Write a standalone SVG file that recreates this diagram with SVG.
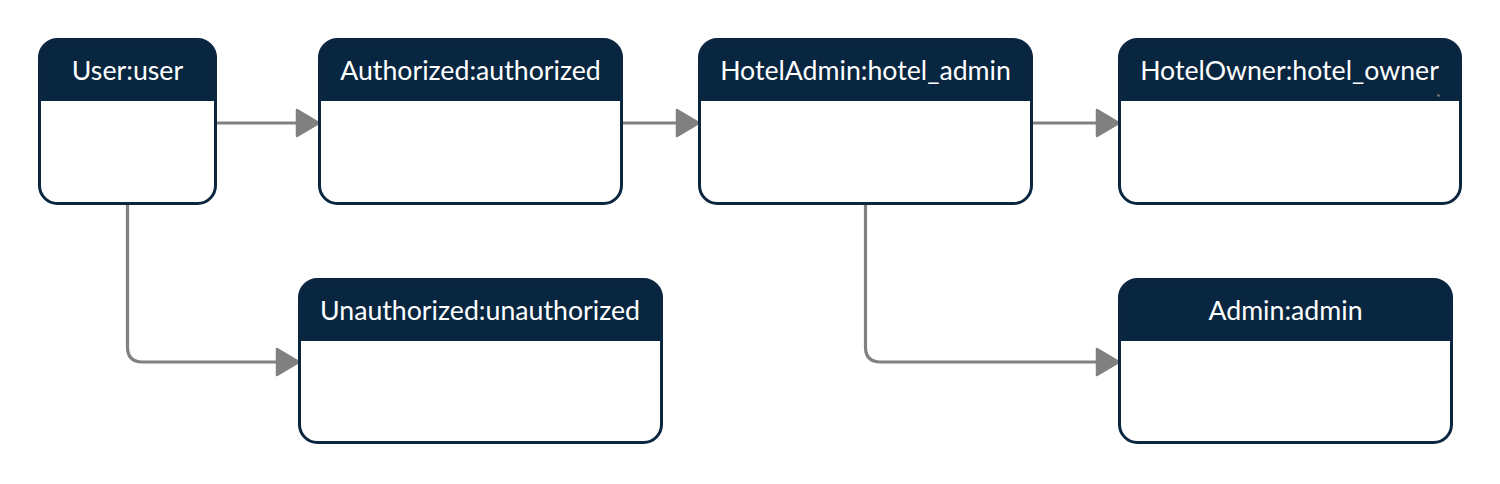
<svg xmlns="http://www.w3.org/2000/svg" width="1500" height="484" viewBox="0 0 1500 484">
<style>
.box{fill:none;stroke:#0a2640;stroke-width:3}
.body{fill:#ffffff}
.hdr{fill:#08263f}
.lbl{fill:#ffffff;font-family:Lato,"Liberation Sans",sans-serif;font-size:26.7px;text-anchor:middle}
.edge{fill:none;stroke:#808080;stroke-width:3.2}
</style>
<defs>
<marker id="arr" markerUnits="userSpaceOnUse" markerWidth="28" markerHeight="32" refX="22" refY="13" orient="auto" viewBox="-3 -3 28 32">
<path d="M0,0 L22,13 L0,26 Z" fill="#808080" stroke="#808080" stroke-width="2.5" stroke-linejoin="round"/>
</marker>
</defs>
<rect width="1500" height="484" fill="#ffffff"/>
<g id="connectors">
<path class="edge" d="M215.5,123 H319" marker-end="url(#arr)"/>
<path class="edge" d="M621.5,123 H699" marker-end="url(#arr)"/>
<path class="edge" d="M1031.5,123 H1119" marker-end="url(#arr)"/>
<path class="edge" d="M127.5,203.5 V347 Q127.5,362 142.5,362 H299" marker-end="url(#arr)"/>
<path class="edge" d="M865.5,203.5 V347 Q865.5,362 880.5,362 H1119" marker-end="url(#arr)"/>
</g>
<g id="user">
<rect class="body" x="39.5" y="39.5" width="176" height="164" rx="18"/>
<path class="hdr" d="M39.5,101 V57.5 A18,18 0 0 1 57.5,39.5 H197.5 A18,18 0 0 1 215.5,57.5 V101 Z"/>
<rect class="box" x="39.5" y="39.5" width="176" height="164" rx="18"/>
<text class="lbl" x="127.5" y="80">User:user</text>
</g>
<g id="authorized">
<rect class="body" x="319.5" y="39.5" width="302" height="164" rx="18"/>
<path class="hdr" d="M319.5,101 V57.5 A18,18 0 0 1 337.5,39.5 H603.5 A18,18 0 0 1 621.5,57.5 V101 Z"/>
<rect class="box" x="319.5" y="39.5" width="302" height="164" rx="18"/>
<text class="lbl" x="470.5" y="80">Authorized:authorized</text>
</g>
<g id="hoteladmin">
<rect class="body" x="699.5" y="39.5" width="332" height="164" rx="18"/>
<path class="hdr" d="M699.5,101 V57.5 A18,18 0 0 1 717.5,39.5 H1013.5 A18,18 0 0 1 1031.5,57.5 V101 Z"/>
<rect class="box" x="699.5" y="39.5" width="332" height="164" rx="18"/>
<text class="lbl" x="865.5" y="80">HotelAdmin:hotel_admin</text>
</g>
<g id="hotelowner">
<rect class="body" x="1119.5" y="39.5" width="341" height="164" rx="18"/>
<path class="hdr" d="M1119.5,101 V57.5 A18,18 0 0 1 1137.5,39.5 H1442.5 A18,18 0 0 1 1460.5,57.5 V101 Z"/>
<rect class="box" x="1119.5" y="39.5" width="341" height="164" rx="18"/>
<text class="lbl" x="1289.5" y="80">HotelOwner:hotel_owner</text>
<circle cx="1438.5" cy="95.5" r="1.2" fill="#808080"/>
</g>
<g id="unauthorized">
<rect class="body" x="299.5" y="279.5" width="362" height="163" rx="18"/>
<path class="hdr" d="M299.5,341 V297.5 A18,18 0 0 1 317.5,279.5 H643.5 A18,18 0 0 1 661.5,297.5 V341 Z"/>
<rect class="box" x="299.5" y="279.5" width="362" height="163" rx="18"/>
<text class="lbl" x="480" y="320">Unauthorized:unauthorized</text>
</g>
<g id="admin">
<rect class="body" x="1119.5" y="279.5" width="332" height="163" rx="18"/>
<path class="hdr" d="M1119.5,341 V297.5 A18,18 0 0 1 1137.5,279.5 H1433.5 A18,18 0 0 1 1451.5,297.5 V341 Z"/>
<rect class="box" x="1119.5" y="279.5" width="332" height="163" rx="18"/>
<text class="lbl" x="1285.5" y="320">Admin:admin</text>
</g>
</svg>
